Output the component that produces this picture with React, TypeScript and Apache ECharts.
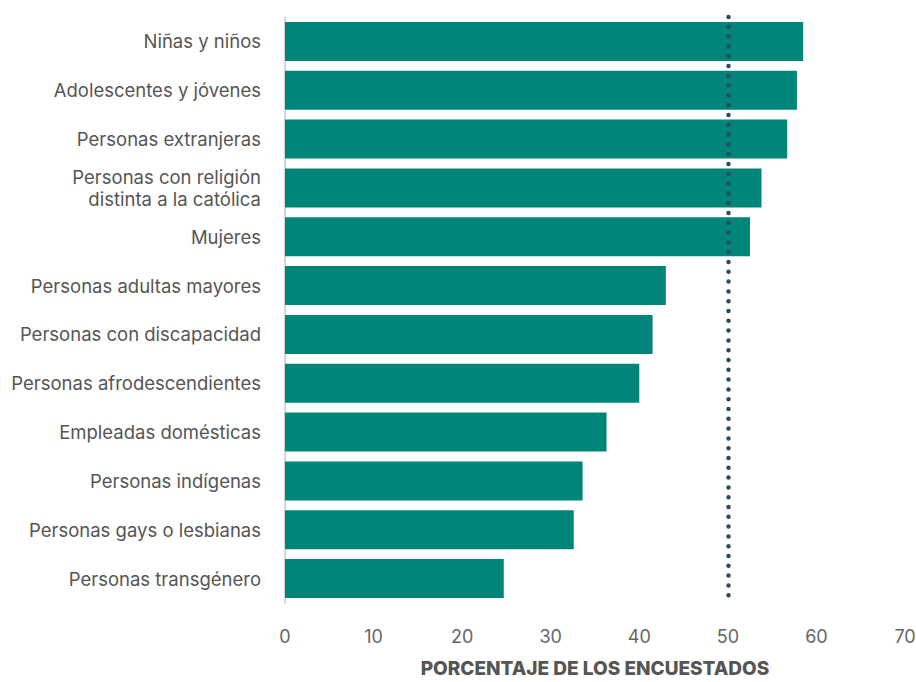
import React, { useEffect, useRef } from "react";
import * as echarts from "echarts";

const categories = [
  "Niñas y niños",
  "Adolescentes y jóvenes",
  "Personas extranjeras",
  "Personas con religión\ndistinta a la católica",
  "Mujeres",
  "Personas adultas mayores",
  "Personas con discapacidad",
  "Personas afrodescendientes",
  "Empleadas domésticas",
  "Personas indígenas",
  "Personas gays o lesbianas",
  "Personas transgénero",
];
const values = [58.5, 57.8, 56.7, 53.8, 52.5, 43.0, 41.5, 40.0, 36.3, 33.6, 32.6, 24.7];
const xTicks = [0, 10, 20, 30, 40, 50, 60, 70];
const referenceValue = 50;
const axisTitle = "PORCENTAJE DE LOS ENCUESTADOS";

export default function App() {
  const ref = useRef<HTMLDivElement>(null);
  useEffect(() => {
    if (!ref.current) return;
    const chart = echarts.init(ref.current, undefined, { renderer: "svg" });
    chart.setOption({
      animation: false,
      textStyle: { fontFamily: "Inter, Roboto, sans-serif" },
      grid: { left: 285, right: 11, top: 17, bottom: 79, containLabel: false, outerBoundsMode: "none" },
      xAxis: {
        type: "value",
        min: xTicks[0],
        max: xTicks[xTicks.length - 1],
        interval: 10,
        axisLine: { show: false },
        axisTick: { show: false },
        splitLine: { show: false },
        axisLabel: { color: "#666", fontSize: 18, margin: 24 },
        name: axisTitle,
        nameLocation: "middle",
        nameGap: 56,
        nameTextStyle: {
          color: "#555",
          fontSize: 19,
          lineHeight: 19,
          fontWeight: 800,
          fontFamily: "Inter, Roboto, sans-serif",
        },
      },
      yAxis: {
        type: "category",
        data: categories,
        inverse: true,
        axisLine: { show: true, lineStyle: { color: "#c8c8c8", width: 1.5 } },
        axisTick: { show: false },
        axisLabel: { color: "#555", fontSize: 18.5, margin: 24, lineHeight: 22, align: "right" },
      },
      series: [
        {
          type: "bar",
          data: values,
          barCategoryGap: "20%",
          itemStyle: { color: "#00857b" },
          markLine: {
            silent: true,
            symbol: "none",
            label: { show: false },
            lineStyle: {
              color: "#2b4a5e",
              width: 4.5,
              type: [0, 9.8],
              cap: "round",
            },
            data: [{ xAxis: referenceValue }],
          },
        },
      ],
    });
    return () => chart.dispose();
  }, []);
  return <div ref={ref} style={{ width: 916, height: 682, position: "absolute", left: 0, top: 0 }} />;
}
